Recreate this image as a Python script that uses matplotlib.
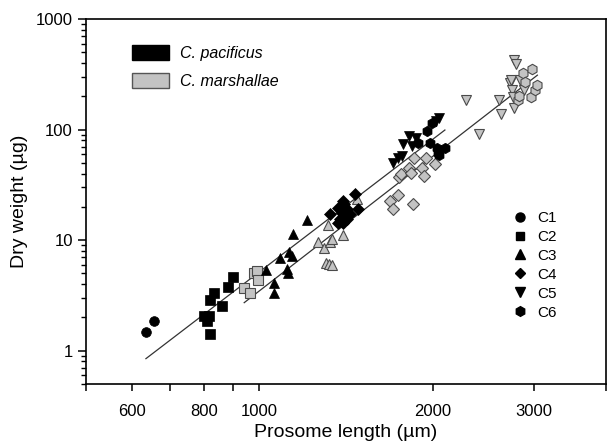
import numpy as np
import matplotlib.pyplot as plt
from matplotlib.lines import Line2D
from matplotlib.patches import Patch
from matplotlib.ticker import FixedLocator, NullFormatter, FixedFormatter, LogLocator

plt.rcParams['font.family'] = ['Liberation Sans', 'DejaVu Sans']

# C. pacificus (black), prosome length (um) and dry weight (ug) by stage
pac_c1_len = [635, 656]
pac_c1_wt = [1.49, 1.84]
pac_c2_len = [801, 812, 816, 822, 822, 834, 862, 883, 901]
pac_c2_wt = [2.05, 1.87, 2.05, 1.42, 2.90, 3.33, 2.53, 3.80, 4.61]
pac_c3_len = [1026, 1062, 1062, 1086, 1117, 1120, 1125, 1139, 1143, 1211]
pac_c3_wt = [5.39, 4.14, 3.36, 6.96, 5.46, 5.02, 7.8, 7.21, 11.3, 15.2]
pac_c4_len = [1324, 1372, 1372, 1380, 1390, 1395, 1399, 1404, 1418, 1418, 1436, 1465, 1484]
pac_c4_wt = [17.1, 19.7, 14.4, 15.5, 17.8, 22.6, 14.4, 21.1, 19.0, 15.5, 17.1, 26.0, 19.3]
pac_c5_len = [1705, 1740, 1770, 1780, 1822, 1842, 1871, 2026, 2051]
pac_c5_wt = [50.1, 55.6, 58.3, 74.8, 87.0, 71.7, 84.2, 119, 127]
pac_c6_len = [1883, 1959, 1978, 1999, 2034, 2040, 2051, 2101]
pac_c6_wt = [75.9, 96.6, 75.9, 116, 68.4, 61.7, 59.5, 68.4]

# C. marshallae (grey)
mar_c2_len = [941, 963, 977, 990, 996]
mar_c2_wt = [3.67, 3.33, 5.04, 5.29, 4.39]
mar_c3_len = [1263, 1294, 1308, 1318, 1322, 1326, 1338, 1338, 1399, 1476]
mar_c3_wt = [9.70, 8.57, 6.27, 13.6, 6.06, 9.70, 10.3, 5.98, 11.2, 23.7]
mar_c4_len = [1684, 1710, 1740, 1747, 1764, 1817, 1834, 1846, 1858, 1916, 1934, 1947, 2018]
mar_c4_wt = [22.6, 19.3, 25.4, 37.5, 39.3, 45.2, 40.7, 21.1, 55.6, 45.2, 38.0, 55.6, 48.4]
mar_c5_len = [2287, 2412, 2610, 2631, 2722, 2737, 2750, 2758, 2773, 2773, 2788, 2837, 2885]
mar_c5_wt = [186, 92.0, 186, 138, 264, 282, 229, 199, 157, 427, 393, 282, 229]
mar_c6_len = [2818, 2826, 2874, 2893, 2963, 2982, 3011, 3042]
mar_c6_wt = [186, 202, 328, 272, 197, 357, 229, 254]

stages = ['C1', 'C2', 'C3', 'C4', 'C5', 'C6']
stage_markers = ['o', 's', '^', 'D', 'v', 'h']

pac = [(pac_c1_len, pac_c1_wt), (pac_c2_len, pac_c2_wt), (pac_c3_len, pac_c3_wt),
       (pac_c4_len, pac_c4_wt), (pac_c5_len, pac_c5_wt), (pac_c6_len, pac_c6_wt)]
mar = [None, (mar_c2_len, mar_c2_wt), (mar_c3_len, mar_c3_wt),
       (mar_c4_len, mar_c4_wt), (mar_c5_len, mar_c5_wt), (mar_c6_len, mar_c6_wt)]

grey = '#c3c3c3'
msizes = {'o': 7, 's': 6.5, '^': 7, 'D': 6, 'v': 7, 'h': 7.5}

fig = plt.figure(figsize=(6.07, 4.44), dpi=100)
ax = fig.add_axes([0.142, 0.135, 0.856, 0.822])
ax.set_xscale('log')
ax.set_yscale('log')


def fit_line(groups):
    xs = np.concatenate([g[0] for g in groups if g is not None])
    ys = np.concatenate([g[1] for g in groups if g is not None])
    b, a = np.polyfit(np.log10(xs), np.log10(ys), 1)
    xl = np.array([xs.min(), xs.max()])
    return xl, 10 ** (a + b * np.log10(xl))


xl, yl = fit_line(pac)
ax.plot(xl, yl, color='#333333', lw=0.9, zorder=1)
xl, yl = fit_line(mar)
ax.plot(xl, yl, color='#333333', lw=0.9, zorder=1)

for m, grp in zip(stage_markers, mar):
    if grp is None:
        continue
    ax.plot(grp[0], grp[1], m, ms=msizes[m], mfc=grey, mec='#4a4a4a', mew=0.8, zorder=2)
for m, grp in zip(stage_markers, pac):
    ax.plot(grp[0], grp[1], m, ms=msizes[m], mfc='black', mec='black', mew=0.5, zorder=3)

ax.set_xlim(500, 4000)
ax.set_ylim(0.5, 1000)

ax.xaxis.set_major_locator(FixedLocator([600, 800, 1000, 2000, 3000]))
ax.xaxis.set_major_formatter(FixedFormatter(['600', '800', '1000', '2000', '3000']))
ax.xaxis.set_minor_locator(FixedLocator([500, 700, 900, 4000]))
ax.xaxis.set_minor_formatter(NullFormatter())
ax.yaxis.set_major_locator(FixedLocator([1, 10, 100, 1000]))
ax.yaxis.set_major_formatter(FixedFormatter(['1', '10', '100', '1000']))
ax.yaxis.set_minor_locator(LogLocator(base=10, subs=np.arange(2, 10)))
ax.yaxis.set_minor_formatter(NullFormatter())

ax.tick_params(axis='x', which='both', direction='out', length=5, width=1.1, labelsize=12, pad=9)
ax.tick_params(axis='y', which='major', direction='out', length=6, width=1.1, labelsize=12)
ax.tick_params(axis='y', which='minor', direction='out', length=3.5, width=1.0)
for s in ax.spines.values():
    s.set_linewidth(1.2)

ax.set_xlabel('Prosome length (µm)', fontsize=14, labelpad=4)
ax.set_ylabel('Dry weight (µg)', fontsize=14, labelpad=6)

species_handles = [Patch(facecolor='black', edgecolor='black'),
                   Patch(facecolor=grey, edgecolor='#555555')]
leg1 = ax.legend(species_handles, ['C. pacificus', 'C. marshallae'], loc='upper left',
                 bbox_to_anchor=(0.088, 0.93), frameon=False,
                 handlelength=2.3, handleheight=1.1, labelspacing=0.75,
                 handletextpad=0.7, borderpad=0, borderaxespad=0,
                 prop={'style': 'italic', 'size': 11.5})
ax.add_artist(leg1)

stage_handles = [Line2D([], [], marker=m, ls='none', color='black', ms=msizes[m] - 0.5)
                 for m in stage_markers]
ax.legend(stage_handles, stages, loc='upper left', bbox_to_anchor=(0.821, 0.474),
          frameon=False, fontsize=11, handlelength=1.0, labelspacing=0.32,
          handletextpad=0.6, borderpad=0, borderaxespad=0)

fig.savefig('out.png', dpi=100)
